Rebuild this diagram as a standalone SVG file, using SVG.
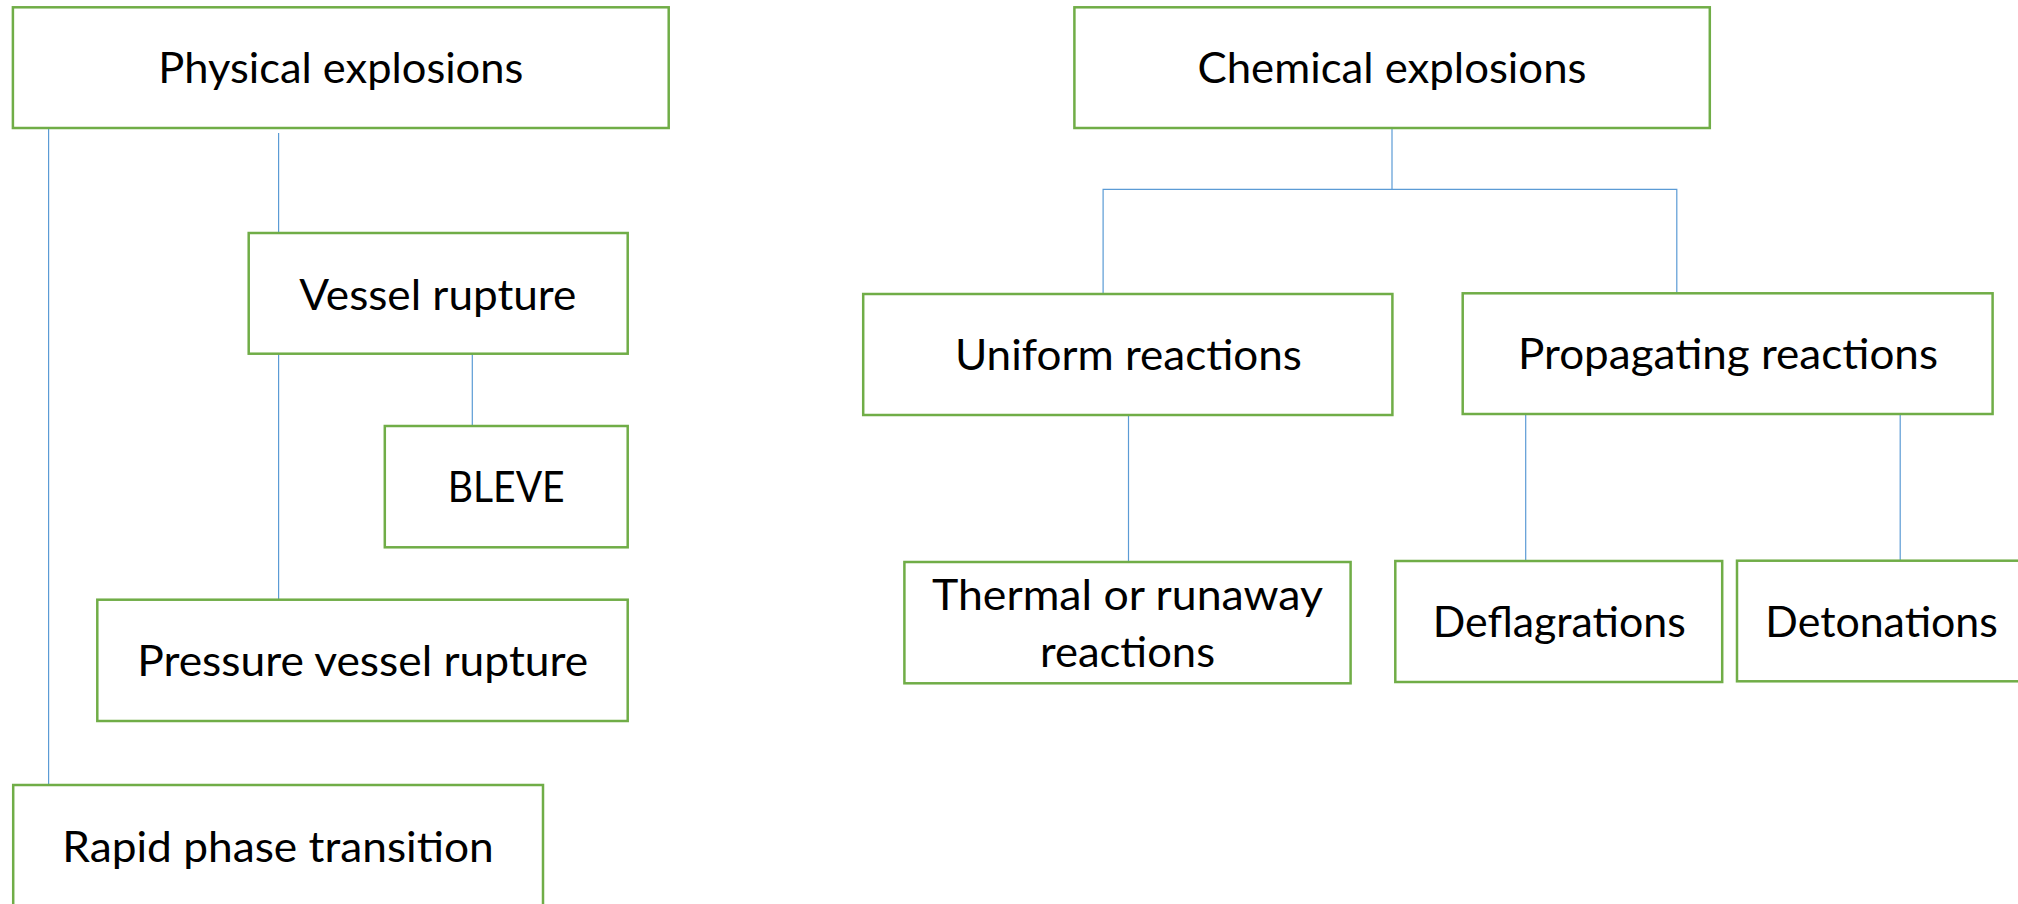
<svg xmlns="http://www.w3.org/2000/svg" width="2018" height="904" viewBox="0 0 2018 904">
<style>
.box{fill:#FFFFFF;stroke:#70AD47;stroke-width:2.5}
.lbl{font-family:Lato,"Liberation Sans",sans-serif;font-size:42px;fill:#000000;text-anchor:middle}
.con{stroke:#5B9BD5;stroke-width:1.2;fill:none}
</style>
<rect width="2018" height="904" fill="#FFFFFF"/>
<g id="connectors">
<line class="con" x1="48.6" y1="128" x2="48.6" y2="785"/>
<line class="con" x1="278.6" y1="133" x2="278.6" y2="233"/>
<line class="con" x1="278.6" y1="354" x2="278.6" y2="600"/>
<line class="con" x1="472.3" y1="354" x2="472.3" y2="428"/>
<line class="con" x1="1392" y1="128" x2="1392" y2="189.3"/>
<polyline class="con" points="1103.1,294 1103.1,189.3 1676.8,189.3 1676.8,293.3"/>
<line class="con" x1="1128.5" y1="415" x2="1128.5" y2="562"/>
<line class="con" x1="1525.7" y1="414" x2="1525.7" y2="561"/>
<line class="con" x1="1900.2" y1="414" x2="1900.2" y2="561"/>
</g>
<g id="physical">
<rect class="box" x="12.9" y="7.3" width="655.8" height="120.7"/>
<text class="lbl" x="340.8" y="83.3" textLength="365" lengthAdjust="spacingAndGlyphs">Physical explosions</text>
</g>
<g id="vessel">
<rect class="box" x="248.7" y="233" width="379" height="120.7"/>
<text class="lbl" x="437.8" y="310" textLength="277" lengthAdjust="spacingAndGlyphs">Vessel rupture</text>
</g>
<g id="bleve">
<rect class="box" x="384.8" y="426" width="242.9" height="121.3"/>
<text class="lbl" x="506.2" y="502.3" textLength="117" lengthAdjust="spacingAndGlyphs">BLEVE</text>
</g>
<g id="pressure">
<rect class="box" x="97.3" y="599.7" width="530.4" height="121.3"/>
<text class="lbl" x="362.7" y="676" textLength="451" lengthAdjust="spacingAndGlyphs">Pressure vessel rupture</text>
</g>
<g id="rapid">
<rect class="box" x="13.2" y="785" width="529.8" height="140"/>
<text class="lbl" x="278" y="861.7" textLength="431.5" lengthAdjust="spacingAndGlyphs">Rapid phase transition</text>
</g>
<g id="chemical">
<rect class="box" x="1074.4" y="7.3" width="635.4" height="120.7"/>
<text class="lbl" x="1392" y="83" textLength="389" lengthAdjust="spacingAndGlyphs">Chemical explosions</text>
</g>
<g id="uniform">
<rect class="box" x="863.2" y="294" width="529.2" height="121"/>
<text class="lbl" x="1128.4" y="370" textLength="347" lengthAdjust="spacingAndGlyphs">Uniform reactions</text>
</g>
<g id="propagating">
<rect class="box" x="1462.7" y="293.3" width="529.9" height="120.7"/>
<text class="lbl" x="1728" y="369.3" textLength="420" lengthAdjust="spacingAndGlyphs">Propagating reactions</text>
</g>
<g id="thermal">
<rect class="box" x="904.4" y="562" width="446.2" height="121.3"/>
<text class="lbl" x="1127.5" y="610" textLength="391" lengthAdjust="spacingAndGlyphs">Thermal or runaway</text>
<text class="lbl" x="1127.5" y="666.7" textLength="175" lengthAdjust="spacingAndGlyphs">reactions</text>
</g>
<g id="deflagrations">
<rect class="box" x="1395.3" y="561" width="326.9" height="121"/>
<text class="lbl" x="1559.3" y="636.7" textLength="253" lengthAdjust="spacingAndGlyphs">Deflagrations</text>
</g>
<g id="detonations">
<rect class="box" x="1737" y="560.7" width="285" height="120.6"/>
<text class="lbl" x="1881.6" y="637.3" textLength="232.5" lengthAdjust="spacingAndGlyphs">Detonations</text>
</g>
</svg>
